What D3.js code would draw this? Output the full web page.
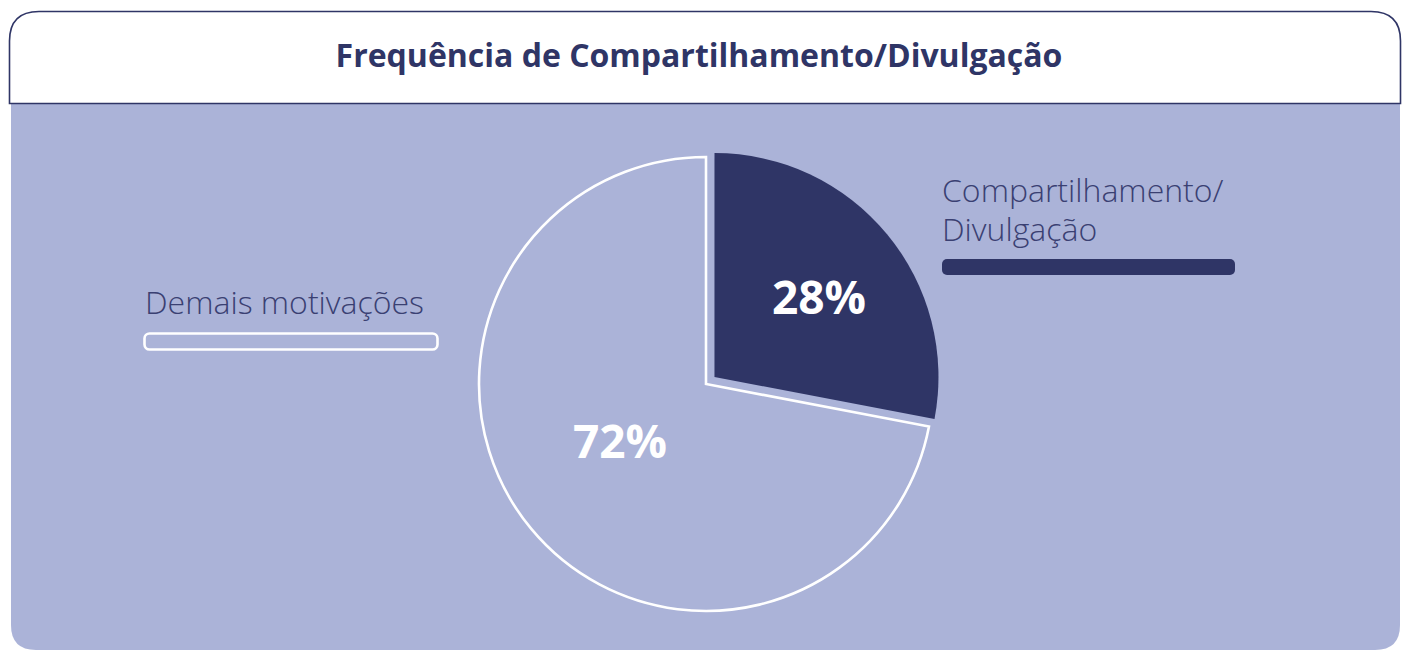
<!DOCTYPE html>
<html lang="pt">
<head>
  <meta charset="UTF-8" />
  <script src="https://d3js.org/d3.v7.min.js"></script>
  <title>Frequência de Compartilhamento/Divulgação</title>
  <style>
    body { margin: 0; background: #fff; }
    text { font-family: "Open Sans", sans-serif; }
  </style>
</head>
<body>
<script type="text/javascript">
	var width = 1402; var height = 652;
	var title = "Frequência de Compartilhamento/Divulgação";
	var categories = ["Compartilhamento/Divulgação", "Demais motivações"];
	var values = [28, 72];
	var labelLines = [["Compartilhamento/", "Divulgação"], ["Demais motivações"]];

	var navy = "#2f3566";
	var lav = "#abb3d8";

	var svg = d3.select("body").append("svg").attr("width", width).attr("height", height);

	// card body + header
	svg.append("path")
		.attr("d", "M11,104 H1400 V625 Q1400,650 1375,650 H36 Q11,650 11,625 Z")
		.attr("fill", lav);
	svg.append("path")
		.attr("d", "M9.5,103.5 V41 Q9.5,11.5 39,11.5 H1371 Q1400.5,11.5 1400.5,41 V103.5 Z")
		.attr("fill", "#fff").attr("stroke", navy).attr("stroke-width", 1.6);

	svg.append("text").attr("x", 699).attr("y", 67).attr("text-anchor", "middle")
		.attr("font-size", 32).attr("font-weight", 700).attr("fill", navy).text(title);

	// pie
	var cx = 706, cy = 384;
	var pie = d3.pie().sort(null).value(function(d){return d;});
	var arcs = pie(values);
	var arcBig = d3.arc().innerRadius(0).outerRadius(227);
	var arcSmall = d3.arc().innerRadius(0).outerRadius(224);
	var g = svg.append("g").attr("transform", "translate(" + cx + "," + cy + ")");

	// remaining slice (light, white outline)
	g.append("path").attr("d", arcBig(arcs[1]))
		.attr("fill", lav).attr("stroke", "#fff").attr("stroke-width", 2.6).attr("stroke-linejoin", "miter");
	// exploded slice
	var mid = (arcs[0].startAngle + arcs[0].endAngle) / 2;
	var off = 11;
	var ox = Math.sin(mid) * off, oy = -Math.cos(mid) * off;
	g.append("path").attr("d", arcSmall(arcs[0]))
		.attr("transform", "translate(" + ox + "," + oy + ")")
		.attr("fill", navy);

	// value labels
	var lblPos = [[113, -82], [-86, 62]];
	arcs.forEach(function(a, i){
		g.append("text").attr("x", lblPos[i][0]).attr("y", lblPos[i][1])
			.attr("text-anchor", "middle").attr("dominant-baseline", "middle")
			.attr("font-size", 46).attr("font-weight", 700).attr("fill", "#fff")
			.text(values[i] + "%");
	});

	// legend labels
	var lx = [942, 145];
	var ly = [202, 314];
	labelLines.forEach(function(lines, i){
		lines.forEach(function(s, j){
			svg.append("text").attr("x", lx[i]).attr("y", ly[i] + j * 39)
				.attr("font-size", 32).attr("font-weight", 300).attr("fill", "#3a4072").text(s);
		});
	});
	svg.append("rect").attr("x", 942).attr("y", 259).attr("width", 293).attr("height", 16).attr("rx", 5)
		.attr("fill", navy);
	svg.append("rect").attr("x", 144.5).attr("y", 333.5).attr("width", 293).attr("height", 16).attr("rx", 5)
		.attr("fill", "none").attr("stroke", "#fff").attr("stroke-width", 2.6);
</script>
</body>
</html>
